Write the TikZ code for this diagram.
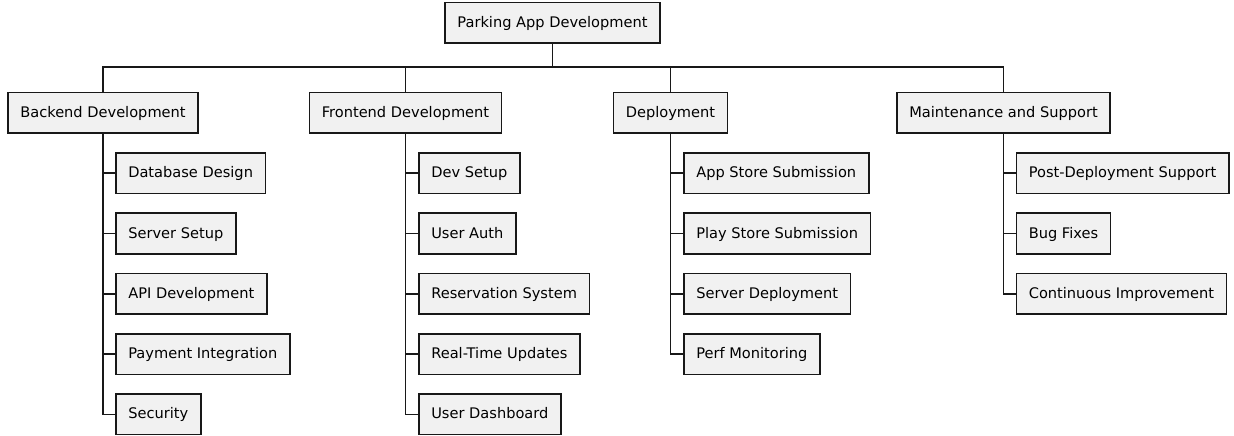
\documentclass[tikz,border=0pt]{standalone}
\usepackage{fontspec}
\setmainfont{DejaVu Sans}
\definecolor{boxfill}{HTML}{F1F1F1}
\definecolor{boxline}{HTML}{181818}
\tikzset{
  x=1pt, y=-1pt,
  wbsbox/.style={draw=boxline, fill=boxfill, line width=1.6pt, rectangle,
    inner xsep=12.5pt, inner ysep=0pt, minimum height=40.5pt,
    text height=0.95em, text depth=0.05em,
    font=\fontsize{14.6}{17}\selectfont},
  child/.style={wbsbox, anchor=west},
  link/.style={draw=boxline, line width=1.6pt}
}
\begin{document}
\begin{tikzpicture}
\useasboundingbox (0,0) rectangle (1234,436);
\coordinate (bar) at (0,67);

% root and first level
\node[wbsbox] (root) at (552.5,22.7) {Parking App Development};
\node[wbsbox] (be) at (103,112.7) {Backend Development};
\node[wbsbox] (fe) at (405.5,112.7) {Frontend Development};
\node[wbsbox] (dp) at (670.5,112.7) {Deployment};
\node[wbsbox] (ms) at (1003.5,112.7) {Maintenance and Support};

% backend tasks
\node[child] (be1) at (115,173.2) {Database Design};
\node[child] (be2) at (115,233.5) {Server Setup};
\node[child] (be3) at (115,293.8) {API Development};
\node[child] (be4) at (115,354.1) {Payment Integration};
\node[child] (be5) at (115,414.4) {Security};

% frontend tasks
\node[child] (fe1) at (418,173.2) {Dev Setup};
\node[child] (fe2) at (418,233.5) {User Auth};
\node[child] (fe3) at (418,293.8) {Reservation System};
\node[child] (fe4) at (418,354.1) {Real-Time Updates};
\node[child] (fe5) at (418,414.4) {User Dashboard};

% deployment tasks
\node[child] (dp1) at (683,173.2) {App Store Submission};
\node[child] (dp2) at (683,233.5) {Play Store Submission};
\node[child] (dp3) at (683,293.8) {Server Deployment};
\node[child] (dp4) at (683,354.1) {Perf Monitoring};

% maintenance tasks
\node[child] (ms1) at (1015.5,173.2) {Post-Deployment Support};
\node[child] (ms2) at (1015.5,233.5) {Bug Fixes};
\node[child] (ms3) at (1015.5,293.8) {Continuous Improvement};

% root to first level
\foreach \n in {be,fe,dp,ms}
  \draw[link] (root.south) -- (root.south |- bar) -| (\n.north);

% first level to tasks
\foreach \p/\c in {be/be1,be/be2,be/be3,be/be4,be/be5,
                   fe/fe1,fe/fe2,fe/fe3,fe/fe4,fe/fe5,
                   dp/dp1,dp/dp2,dp/dp3,dp/dp4,
                   ms/ms1,ms/ms2,ms/ms3}
  \draw[link] (\p.south) |- (\c.west);
\end{tikzpicture}
\end{document}
